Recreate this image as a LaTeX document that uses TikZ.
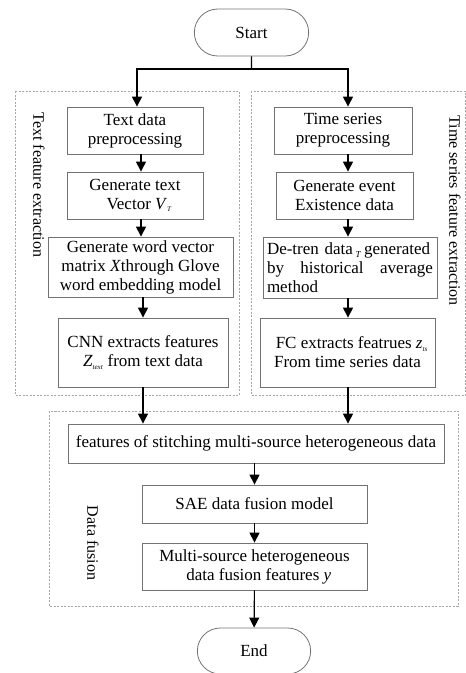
\documentclass[tikz,border=0pt]{standalone}
\usepackage{fontspec}
\setmainfont{Liberation Serif}
\usepackage{tikz}
\usetikzlibrary{calc}
\usetikzlibrary{arrows.meta}
\usetikzlibrary{shapes.misc}
\tikzset{%
  myedge/.style={-{Triangle[width=10pt,length=10pt]}, line width=1.1pt},
  mybox/.style={rectangle, draw=gray!90!black, line width=0.8pt, align=center,
    inner sep=2pt, font=\fontsize{17}{19}\selectfont},
  myterm/.style={rounded rectangle, draw=gray!90!black, line width=0.8pt,
    minimum width=121pt, minimum height=47pt, font=\fontsize{17}{19}\selectfont},
  myframe/.style={draw=gray!70, line width=0.6pt, dash pattern=on 2pt off 1.5pt},
  mylabel/.style={rotate=-90, font=\fontsize{16}{18}\selectfont}
}
\newcommand{\ivar}[1]{\textit{#1}}
\newcommand{\isub}[2]{\textit{#1}\textsubscript{\scriptsize\textit{#2}}}

\begin{document}
\begin{tikzpicture}[x=1pt, y=-1pt]
  \useasboundingbox (0,0) rectangle (466,673);
  % frames
  \draw [myframe] (15,91) rectangle (239,395);
  \draw [myframe] (251,91) rectangle (465.5,395);
  \draw [myframe] (49,411) rectangle (458,606);
  \node[mylabel] (textlbl) at (39,185) {Text feature extraction};
  \node[mylabel] (timelbl) at (455,210.5) {Time series feature extraction};
  \node[mylabel] (fuselbl) at (93,543) {Data fusion};
  % terminals
  \node[myterm] (start) at (251.5,32.5) {Start};
  \node[myterm, minimum width=120pt, minimum height=46pt] (end) at (254,651) {End};
  % text branch
  \node[mybox, minimum width=136pt, minimum height=47pt] (l1) at (135,130.5)
    {Text data\\preprocessing};
  \node[mybox, minimum width=136pt, minimum height=47pt] (l2) at (135,195.5)
    {Generate text\\\ \ Vector \isub{V}{T}};
  \node[mybox, minimum width=185pt, minimum height=60pt] (l3) at (140.5,267)
    {Generate word vector\\matrix \ivar{X}through Glove\\word embedding model};
  \node[mybox, minimum width=170pt, minimum height=69pt] (l4) at (143,352.5)
    {CNN extracts features\\\isub{Z}{text} from text data};
  % time series branch
  \node[mybox, minimum width=138pt, minimum height=47pt] (r1) at (343,130.5)
    {Time series\\preprocessing};
  \node[mybox, minimum width=137pt, minimum height=47pt] (r2) at (344.5,195.5)
    {Generate event\\Existence data};
  \node[mybox, minimum width=174pt, minimum height=61pt, text width=166pt,
    align=left] (r3) at (350,267.5)
    {De-tren data\,\raisebox{-3pt}{\small\textit{T}}\,generated\\by\hfill historical\hfill average\\method};
  \node[mybox, minimum width=175pt, minimum height=69pt] (r4) at (347.5,352.5)
    {\ \ FC extracts featrues \isub{z}{ts}\\From time series data};
  % fusion
  \node[mybox, minimum width=376pt, minimum height=39pt] (stitch) at (256,443.5)
    {features of stitching multi-source heterogeneous data};
  \node[mybox, minimum width=225pt, minimum height=38pt] (sae) at (254.5,504)
    {SAE data fusion model};
  \node[mybox, minimum width=225pt, minimum height=47pt] (multi) at (254.5,566.5)
    {Multi-source heterogeneous\\\ \ data fusion features \ivar{y}};
  % connectors
  \coordinate (split) at (251.5,69);
  \coordinate (colL) at (141,0);
  \coordinate (colR) at (348,0);
  \draw [line width=1.1pt] (start) -- (split);
  \draw [myedge] (split) -| (l1.north -| 137,0);
  \draw [myedge] (split) -| (r1.north -| colR);
  \draw [myedge] (l1.south -| colL) -- (l2.north -| colL);
  \draw [myedge] (l2.south -| colL) -- (l3.north -| colL);
  \draw [myedge] (l3.south -| l4) -- (l4.north);
  \draw [myedge] (l4.south) -- (stitch.north -| l4);
  \draw [myedge] (r1.south -| colR) -- (r2.north -| colR);
  \draw [myedge] (r2.south -| colR) -- (r3.north -| colR);
  \draw [myedge] (r3.south -| colR) -- (r4.north -| colR);
  \draw [myedge] (r4.south -| colR) -- (stitch.north -| colR);
  \draw [myedge] (stitch.south -| sae) -- (sae.north);
  \draw [myedge] (sae) -- (multi);
  \draw [myedge] (multi) -- (end);
\end{tikzpicture}
\end{document}
